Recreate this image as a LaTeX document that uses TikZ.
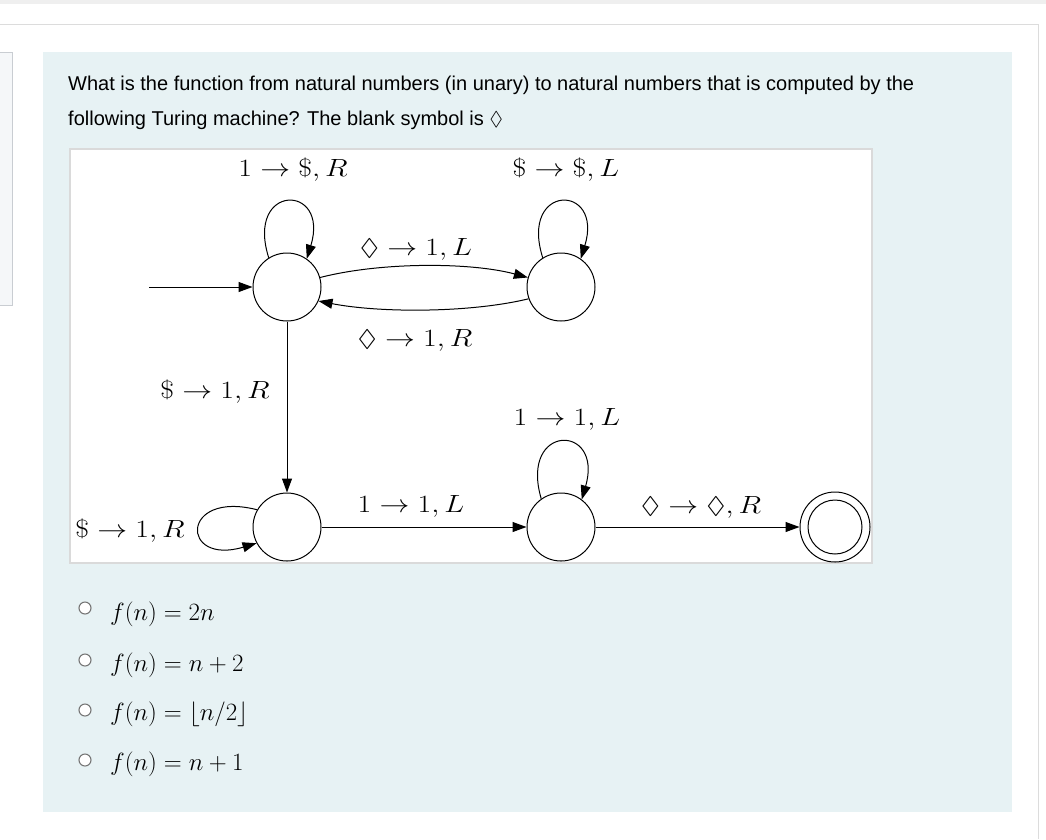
\documentclass[tikz,border=0pt]{standalone}
\usepackage{amssymb}
\usepackage{fontspec}
\setmainfont{Liberation Sans}
\usepackage{graphicx}
\usetikzlibrary{arrows.meta}
\definecolor{topgray}{HTML}{EFEFEF}
\definecolor{linegray}{HTML}{DCDCDC}
\definecolor{leftfill}{HTML}{F5F7F9}
\definecolor{leftborder}{HTML}{C9CDD2}
\definecolor{panel}{HTML}{E7F2F4}
\definecolor{imgborder}{HTML}{DADADA}
\definecolor{radiogray}{HTML}{767676}
\newcommand\tmlab[1]{\scalebox{1.2}[1]{$#1$}}
\begin{document}
\begin{tikzpicture}[x=1pt,y=-1pt,
  st/.style={circle,draw,line width=1pt,minimum size=68pt,inner sep=0pt,fill=white},
  tr/.style={line width=1pt,-{Triangle[length=14pt,width=10pt]}},
  lbl/.style={anchor=base,inner sep=0pt,font=\fontsize{24}{28}\selectfont},
  qtext/.style={anchor=base west,inner sep=0pt,font=\fontsize{20}{24}\selectfont},
  radio/.style={circle,draw=radiogray,line width=1.1pt,minimum size=12pt,inner sep=0pt,fill=white},
  opt/.style={anchor=base west,inner sep=0pt,font=\fontsize{24}{28}\selectfont}]
\useasboundingbox (0,0) rectangle (1046,839);
\fill[white] (0,0) rectangle (1046,839);
\fill[topgray] (0,0) rectangle (1046,4);
\draw[linegray,line width=1pt] (0,24.5) -- (1038.5,24.5) -- (1038.5,839);
\draw[leftborder,fill=leftfill,line width=1pt] (-2,52.5) rectangle (12.5,305.5);
\fill[panel] (43,52) rectangle (1012,812);
\node[qtext] (t1) at (68,90) {What is the function from natural numbers (in unary) to natural numbers that is computed by the};
\node[qtext] (t2) at (68,125) {following Turing machine? The blank symbol is $\Diamond$};
\draw[imgborder,fill=white,line width=1.2pt] (70,149) rectangle (872,563);
% states
\node[st] (q0) at (287,287) {};
\node[st] (q1) at (561,287) {};
\node[st] (q2) at (287,527) {};
\node[st] (q3) at (561,527) {};
\node[st,minimum size=70pt] (q4) at (835,527) {};
\node[circle,draw,line width=1pt,minimum size=54pt,inner sep=0pt] (q4in) at (q4.center) {};
\coordinate (start) at (149,287);
% transitions
\draw[tr] (start) -- (q0.west);
\draw[tr] (q0.122) .. controls (245,183) and (330,183) .. (q0.55);
\draw[tr] (q1.122) .. controls (519,183) and (604,183) .. (q1.55);
\draw[tr] (q3.125) .. controls (519,423) and (604,423) .. (q3.53);
\draw[tr] (q2.150) .. controls (180,490) and (180,566) .. (q2.-152);
\draw[tr] (q0.16) .. controls (380,262) and (470,262) .. (q1.164);
\draw[tr] (q1.-160) .. controls (470,313) and (380,313) .. (q0.-24);
\draw[tr] (q0.south) -- (q2.north);
\draw[tr] (q2.east) -- (q3.west);
\draw[tr] (q3.east) -- (q4.west);
% labels
\node[lbl] (l00) at (293,176) {\tmlab{1\to\$,R}};
\node[lbl] (l11) at (566,176) {\tmlab{\$\to\$,L}};
\node[lbl] (l01) at (416,255) {\tmlab{\lozenge\to1,L}};
\node[lbl] (l10) at (415,346) {\tmlab{\lozenge\to1,R}};
\node[lbl] (l02) at (215,398) {\tmlab{\$\to1,R}};
\node[lbl] (l22) at (130,537) {\tmlab{\$\to1,R}};
\node[lbl] (l23) at (411,512) {\tmlab{1\to1,L}};
\node[lbl] (l33) at (567,425) {\tmlab{1\to1,L}};
\node[lbl] (l34) at (701,513) {\tmlab{\lozenge\to\lozenge,R}};
% options
\node[radio] (r1) at (85,608) {};
\node[radio] (r2) at (85,660) {};
\node[radio] (r3) at (85,710) {};
\node[radio] (r4) at (85,760) {};
\node[opt] (o1) at (110,620) {$f(n)=2n$};
\node[opt] (o2) at (110,671) {$f(n)=n+2$};
\node[opt] (o3) at (110,720) {$f(n)=\lfloor n/2\rfloor$};
\node[opt] (o4) at (110,770) {$f(n)=n+1$};
\end{tikzpicture}
\end{document}
